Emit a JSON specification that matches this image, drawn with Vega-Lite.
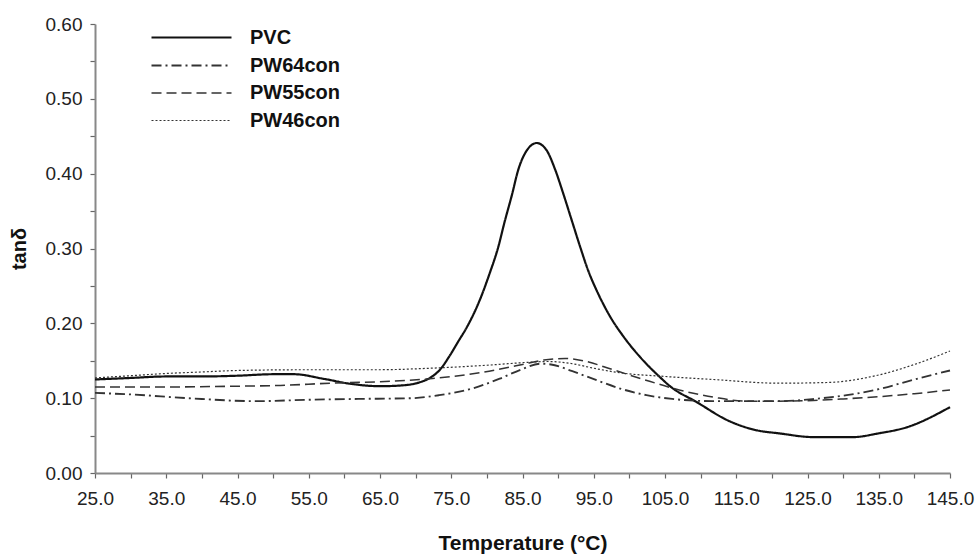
{
  "$schema": "https://vega.github.io/schema/vega-lite/v6.json",
  "width": 855,
  "height": 449,
  "autosize": "none",
  "padding": {"left": 95, "top": 24, "right": 26, "bottom": 81},
  "background": "white",
  "config": {"view": {"stroke": null}, "font": "Liberation Sans"},
  "data": {"values": [
    {"series": "PVC", "T": 25, "v": 0.125},
    {"series": "PVC", "T": 30, "v": 0.127},
    {"series": "PVC", "T": 35, "v": 0.129},
    {"series": "PVC", "T": 40, "v": 0.129},
    {"series": "PVC", "T": 45, "v": 0.130},
    {"series": "PVC", "T": 50, "v": 0.132},
    {"series": "PVC", "T": 53, "v": 0.132},
    {"series": "PVC", "T": 57, "v": 0.126},
    {"series": "PVC", "T": 61, "v": 0.119},
    {"series": "PVC", "T": 65, "v": 0.116},
    {"series": "PVC", "T": 68, "v": 0.117},
    {"series": "PVC", "T": 70.5, "v": 0.121},
    {"series": "PVC", "T": 72, "v": 0.127},
    {"series": "PVC", "T": 73.5, "v": 0.139},
    {"series": "PVC", "T": 74.8, "v": 0.157},
    {"series": "PVC", "T": 76, "v": 0.176},
    {"series": "PVC", "T": 77.2, "v": 0.195},
    {"series": "PVC", "T": 79, "v": 0.231},
    {"series": "PVC", "T": 80.4, "v": 0.267},
    {"series": "PVC", "T": 81.6, "v": 0.302},
    {"series": "PVC", "T": 82.5, "v": 0.336},
    {"series": "PVC", "T": 83.5, "v": 0.371},
    {"series": "PVC", "T": 84.4, "v": 0.405},
    {"series": "PVC", "T": 85.6, "v": 0.431},
    {"series": "PVC", "T": 87, "v": 0.441},
    {"series": "PVC", "T": 88.4, "v": 0.431},
    {"series": "PVC", "T": 89.6, "v": 0.405},
    {"series": "PVC", "T": 90.7, "v": 0.374},
    {"series": "PVC", "T": 91.9, "v": 0.338},
    {"series": "PVC", "T": 93.1, "v": 0.302},
    {"series": "PVC", "T": 94.2, "v": 0.271},
    {"series": "PVC", "T": 95.6, "v": 0.240},
    {"series": "PVC", "T": 97.3, "v": 0.209},
    {"series": "PVC", "T": 99.2, "v": 0.182},
    {"series": "PVC", "T": 101.5, "v": 0.155},
    {"series": "PVC", "T": 104.3, "v": 0.128},
    {"series": "PVC", "T": 105.7, "v": 0.116},
    {"series": "PVC", "T": 109.4, "v": 0.095},
    {"series": "PVC", "T": 114.1, "v": 0.069},
    {"series": "PVC", "T": 117.9, "v": 0.057},
    {"series": "PVC", "T": 121, "v": 0.053},
    {"series": "PVC", "T": 125.8, "v": 0.048},
    {"series": "PVC", "T": 131.4, "v": 0.048},
    {"series": "PVC", "T": 135, "v": 0.053},
    {"series": "PVC", "T": 138.9, "v": 0.061},
    {"series": "PVC", "T": 145, "v": 0.088},

    {"series": "PW64con", "T": 25, "v": 0.107},
    {"series": "PW64con", "T": 30, "v": 0.105},
    {"series": "PW64con", "T": 38, "v": 0.100},
    {"series": "PW64con", "T": 47.6, "v": 0.096},
    {"series": "PW64con", "T": 55.5, "v": 0.098},
    {"series": "PW64con", "T": 62, "v": 0.099},
    {"series": "PW64con", "T": 69.5, "v": 0.100},
    {"series": "PW64con", "T": 73.3, "v": 0.104},
    {"series": "PW64con", "T": 78, "v": 0.113},
    {"series": "PW64con", "T": 81.8, "v": 0.126},
    {"series": "PW64con", "T": 85, "v": 0.139},
    {"series": "PW64con", "T": 87.5, "v": 0.146},
    {"series": "PW64con", "T": 89, "v": 0.145},
    {"series": "PW64con", "T": 92, "v": 0.136},
    {"series": "PW64con", "T": 95.4, "v": 0.124},
    {"series": "PW64con", "T": 99, "v": 0.112},
    {"series": "PW64con", "T": 102.4, "v": 0.104},
    {"series": "PW64con", "T": 106, "v": 0.099},
    {"series": "PW64con", "T": 111.7, "v": 0.096},
    {"series": "PW64con", "T": 121, "v": 0.096},
    {"series": "PW64con", "T": 126, "v": 0.099},
    {"series": "PW64con", "T": 130.5, "v": 0.104},
    {"series": "PW64con", "T": 135, "v": 0.112},
    {"series": "PW64con", "T": 140, "v": 0.125},
    {"series": "PW64con", "T": 145, "v": 0.137},

    {"series": "PW55con", "T": 25, "v": 0.115},
    {"series": "PW55con", "T": 35, "v": 0.115},
    {"series": "PW55con", "T": 45, "v": 0.116},
    {"series": "PW55con", "T": 51, "v": 0.117},
    {"series": "PW55con", "T": 58, "v": 0.120},
    {"series": "PW55con", "T": 65, "v": 0.122},
    {"series": "PW55con", "T": 72, "v": 0.126},
    {"series": "PW55con", "T": 79, "v": 0.134},
    {"series": "PW55con", "T": 85, "v": 0.145},
    {"series": "PW55con", "T": 88, "v": 0.151},
    {"series": "PW55con", "T": 91, "v": 0.153},
    {"series": "PW55con", "T": 93.5, "v": 0.150},
    {"series": "PW55con", "T": 97.7, "v": 0.138},
    {"series": "PW55con", "T": 102, "v": 0.125},
    {"series": "PW55con", "T": 107, "v": 0.111},
    {"series": "PW55con", "T": 112, "v": 0.101},
    {"series": "PW55con", "T": 116.5, "v": 0.096},
    {"series": "PW55con", "T": 121, "v": 0.096},
    {"series": "PW55con", "T": 125.8, "v": 0.097},
    {"series": "PW55con", "T": 130, "v": 0.099},
    {"series": "PW55con", "T": 135, "v": 0.102},
    {"series": "PW55con", "T": 140, "v": 0.106},
    {"series": "PW55con", "T": 145, "v": 0.111},

    {"series": "PW46con", "T": 25, "v": 0.127},
    {"series": "PW46con", "T": 30, "v": 0.130},
    {"series": "PW46con", "T": 35, "v": 0.133},
    {"series": "PW46con", "T": 40, "v": 0.135},
    {"series": "PW46con", "T": 45, "v": 0.137},
    {"series": "PW46con", "T": 55, "v": 0.138},
    {"series": "PW46con", "T": 65, "v": 0.138},
    {"series": "PW46con", "T": 72, "v": 0.140},
    {"series": "PW46con", "T": 80, "v": 0.144},
    {"series": "PW46con", "T": 86, "v": 0.148},
    {"series": "PW46con", "T": 88.5, "v": 0.149},
    {"series": "PW46con", "T": 92, "v": 0.146},
    {"series": "PW46con", "T": 95, "v": 0.140},
    {"series": "PW46con", "T": 98.6, "v": 0.134},
    {"series": "PW46con", "T": 105, "v": 0.129},
    {"series": "PW46con", "T": 111.7, "v": 0.125},
    {"series": "PW46con", "T": 121, "v": 0.120},
    {"series": "PW46con", "T": 128, "v": 0.121},
    {"series": "PW46con", "T": 135, "v": 0.131},
    {"series": "PW46con", "T": 140, "v": 0.145},
    {"series": "PW46con", "T": 145, "v": 0.163}
  ]},
  "mark": {"type": "line", "interpolate": "monotone"},
  "encoding": {
    "x": {
      "field": "T", "type": "quantitative",
      "scale": {"domain": [25, 145], "nice": false, "zero": false},
      "axis": {
        "values": [25,30,35,40,45,50,55,60,65,70,75,80,85,90,95,100,105,110,115,120,125,130,135,140,145],
        "labelExpr": "datum.value % 10 == 5 ? format(datum.value, '.1f') : ''",
        "grid": false, "labelFlush": false, "labelOverlap": false,
        "domainColor": "#888", "domainWidth": 2, "tickColor": "#666", "tickSize": 5, "tickWidth": 1.2,
        "labelFontSize": 19, "labelColor": "#222", "labelPadding": 11,
        "title": "Temperature (°C)", "titleFontSize": 21, "titleFontWeight": "bold", "titleColor": "#111", "titlePadding": 24
      }
    },
    "y": {
      "field": "v", "type": "quantitative",
      "scale": {"domain": [0, 0.6], "nice": false},
      "axis": {
        "values": [0,0.05,0.1,0.15,0.2,0.25,0.3,0.35,0.4,0.45,0.5,0.55,0.6],
        "labelExpr": "round(datum.value * 100) % 10 == 0 ? format(datum.value, '.2f') : ''",
        "grid": false, "labelOverlap": false,
        "domainColor": "#888", "domainWidth": 2, "tickColor": "#666", "tickSize": 5, "tickWidth": 1.2,
        "labelFontSize": 19, "labelColor": "#222", "labelPadding": 8,
        "title": "tanδ", "titleFontSize": 20, "titleFontWeight": "bold", "titleColor": "#111", "titlePadding": 16
      }
    },
    "color": {
      "field": "series", "type": "nominal",
      "scale": {"domain": ["PVC", "PW64con", "PW55con", "PW46con"], "range": ["#111111", "#333333", "#333333", "#333333"]},
      "legend": {
        "orient": "none", "legendX": 85, "legendY": 2, "title": null,
        "symbolType": "M-4,0H4", "symbolSize": 400,
        "labelFontSize": 20, "labelFontWeight": "bold", "labelColor": "#111", "labelOffset": 47,
        "rowPadding": 6.5
      }
    },
    "strokeDash": {
      "field": "series", "type": "nominal",
      "scale": {"domain": ["PVC", "PW64con", "PW55con", "PW46con"], "range": [[1, 0], [10, 4, 2, 4], [10, 5], [2, 2]]}
    },
    "strokeWidth": {
      "field": "series", "type": "nominal",
      "scale": {"domain": ["PVC", "PW64con", "PW55con", "PW46con"], "range": [2.2, 1.2, 1.2, 1.2]}
    }
  }
}
